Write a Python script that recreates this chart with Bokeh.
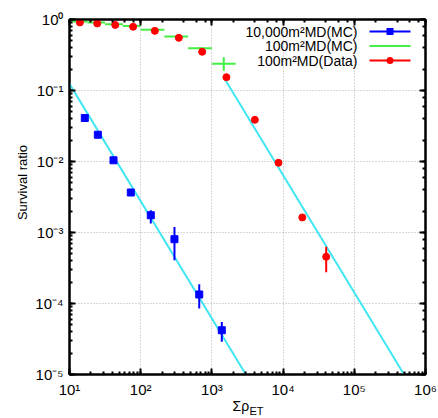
import math
from bokeh.plotting import figure
from bokeh.models import LogAxis, LogTicker, CustomJSTickFormatter, Label, BoxAnnotation, Range1d
from bokeh.embed import file_html
from bokeh.resources import INLINE

# ---- data ----
blue_x = [16.4, 25.0, 41.5, 72.6, 138.6, 298.0, 664.0, 1377.0]
blue_y = [0.041, 0.0238, 0.0104, 0.00366, 0.00175, 0.000805, 0.000134, 0.000042]
blue_lo = [0.038, 0.0222, 0.0097, 0.0033, 0.00134, 0.000407, 0.000085, 0.000029]
blue_hi = [0.044, 0.0255, 0.0112, 0.0040, 0.00206, 0.00120, 0.000186, 0.000055]

green_left = [10.0, 17.8, 31.6, 56.2, 100.0, 215.0, 464.0, 1000.0]
green_right = [17.8, 31.6, 56.2, 100.0, 215.0, 464.0, 1000.0, 2154.0]
green_x = [13.3, 23.7, 42.2, 75.0, 147.0, 316.0, 681.0, 1468.0]
green_y = [0.94, 0.91, 0.86, 0.81, 0.716, 0.576, 0.394, 0.238]
green_lo = [0.935, 0.905, 0.855, 0.80, 0.705, 0.565, 0.375, 0.19]
green_hi = [0.945, 0.915, 0.865, 0.82, 0.727, 0.587, 0.41, 0.295]

red_x = [14.0, 24.5, 43.9, 78.3, 158.0, 343.0, 730.0, 1600.0, 4010.0, 8610.0, 18600.0, 40300.0]
red_y = [0.91, 0.88, 0.84, 0.79, 0.692, 0.552, 0.351, 0.154, 0.0387, 0.0096, 0.00163, 0.000455]
red_lo = [0.90, 0.87, 0.83, 0.78, 0.68, 0.54, 0.34, 0.148, 0.0370, 0.0091, 0.00153, 0.000275]
red_hi = [0.92, 0.89, 0.85, 0.80, 0.704, 0.564, 0.362, 0.160, 0.0404, 0.0101, 0.00173, 0.00063]

fit1_x = [10.0, 3000.0]
fit1_y = [0.124, 0.0000100]
fit2_x = [1500.0, 500000.0]
fit2_y = [0.148, 0.0000100]

legend_labels = ["10,000m\u00b2MD(MC)", "100m\u00b2MD(MC)", "100m\u00b2MD(Data)"]
x_label = "\u03a3\u03c1"
x_label_sub = "ET"
y_label = "Survival ratio"

BLUE = "#0000ff"
GREEN = "#44ee44"
RED = "#ff0000"
CYAN = "#40e6f2"
FONT = "Liberation Sans"

p = figure(x_axis_type="log", y_axis_type="log",
           x_range=Range1d(10, 1e6), y_range=Range1d(1e-5, 1),
           frame_width=356, frame_height=355,
           min_border_left=69, min_border_top=19, min_border_bottom=44, min_border_right=13,
           output_backend="svg", toolbar_location=None,
           background_fill_color="white", border_fill_color="white")

p.outline_line_color = "black"
p.outline_line_width = 2

fmt = CustomJSTickFormatter(code="""
const e = Math.round(Math.log10(tick));
const sup = {"-":"\u207b","0":"\u2070","1":"\u00b9","2":"\u00b2","3":"\u00b3","4":"\u2074","5":"\u2075","6":"\u2076","7":"\u2077","8":"\u2078","9":"\u2079"};
return "10" + String(e).split("").map(c => sup[c]).join("");
""")
blank = CustomJSTickFormatter(code="return '';")

def style_axis(ax):
    ax.axis_line_width = 2
    ax.major_tick_in = 6
    ax.major_tick_out = 0
    ax.minor_tick_in = 3
    ax.minor_tick_out = 0
    ax.major_tick_line_width = 2
    ax.minor_tick_line_width = 2

for ax in [p.xaxis[0], p.yaxis[0]]:
    ax.formatter = fmt
    ax.major_label_text_font = FONT
    ax.major_label_text_font_size = "15px"
    ax.major_label_text_color = "black"
    ax.major_label_standoff = 6
    ax.axis_label_text_font = FONT
    ax.axis_label_text_font_style = "normal"
    ax.axis_label_text_color = "black"
    style_axis(ax)

# y label: leading no-break spaces shift the rotated text upward like the reference
p.yaxis[0].axis_label = "\u00a0" * 8 + y_label
p.yaxis[0].axis_label_text_font_size = "13px"
p.yaxis[0].axis_label_standoff = 2

for loc in ["right", "above"]:
    ax = LogAxis(ticker=LogTicker(), formatter=blank)
    ax.major_label_standoff = 0
    style_axis(ax)
    p.add_layout(ax, loc)

p.xgrid.grid_line_color = "#b0b0b0"
p.ygrid.grid_line_color = "#b0b0b0"
p.xgrid.grid_line_dash = "1 2"
p.ygrid.grid_line_dash = "1 2"

# fit lines
p.line(fit1_x, fit1_y, line_color=CYAN, line_width=2)
p.line(fit2_x, fit2_y, line_color=CYAN, line_width=2)

# green MC histogram
p.segment(x0=green_left, y0=green_y, x1=green_right, y1=green_y, line_color=GREEN, line_width=2)
p.segment(x0=green_x, y0=green_lo, x1=green_x, y1=green_hi, line_color=GREEN, line_width=2)

# blue MC
p.segment(x0=blue_x, y0=blue_lo, x1=blue_x, y1=blue_hi, line_color=BLUE, line_width=2)
p.scatter(blue_x, blue_y, marker="square", size=7, fill_color=BLUE, line_color=BLUE)

# red data
p.segment(x0=red_x, y0=red_lo, x1=red_x, y1=red_hi, line_color=RED, line_width=2)
p.scatter(red_x, red_y, marker="circle", size=7, fill_color=RED, line_color=RED)

# x label with subscript, placed in the lower panel
p.add_layout(Label(x=163, y=11, x_units="screen", y_units="screen", text=x_label,
                   text_align="left", text_baseline="alphabetic",
                   text_font=FONT, text_font_size="14px", text_color="black"), "below")
p.add_layout(Label(x=180, y=18, x_units="screen", y_units="screen", text=x_label_sub,
                   text_align="left", text_baseline="alphabetic",
                   text_font=FONT, text_font_size="11px", text_color="black"), "below")

# custom legend: text right-aligned, line sample to the right
rows = [343, 328.5, 314]
for lab, c, r in zip(legend_labels, [BLUE, GREEN, RED], rows):
    p.add_layout(Label(x=288, y=r, x_units="screen", y_units="screen", text=lab,
                       text_align="right", text_baseline="middle",
                       text_font=FONT, text_font_size="14px", text_color="black"))
    p.add_layout(BoxAnnotation(left=300, right=341, bottom=r - 1, top=r + 1,
                               left_units="screen", right_units="screen",
                               bottom_units="screen", top_units="screen",
                               fill_color=c, fill_alpha=1, line_color=None))
# legend markers
p.add_layout(BoxAnnotation(left=317, right=324, bottom=rows[0] - 3.5, top=rows[0] + 3.5,
                           left_units="screen", right_units="screen",
                           bottom_units="screen", top_units="screen",
                           fill_color=BLUE, fill_alpha=1, line_color=None))
p.add_layout(BoxAnnotation(left=317, right=324, bottom=rows[2] - 3.5, top=rows[2] + 3.5,
                           left_units="screen", right_units="screen",
                           bottom_units="screen", top_units="screen", border_radius=4,
                           fill_color=RED, fill_alpha=1, line_color=None))

open("out.html", "w").write(file_html(p, INLINE))
